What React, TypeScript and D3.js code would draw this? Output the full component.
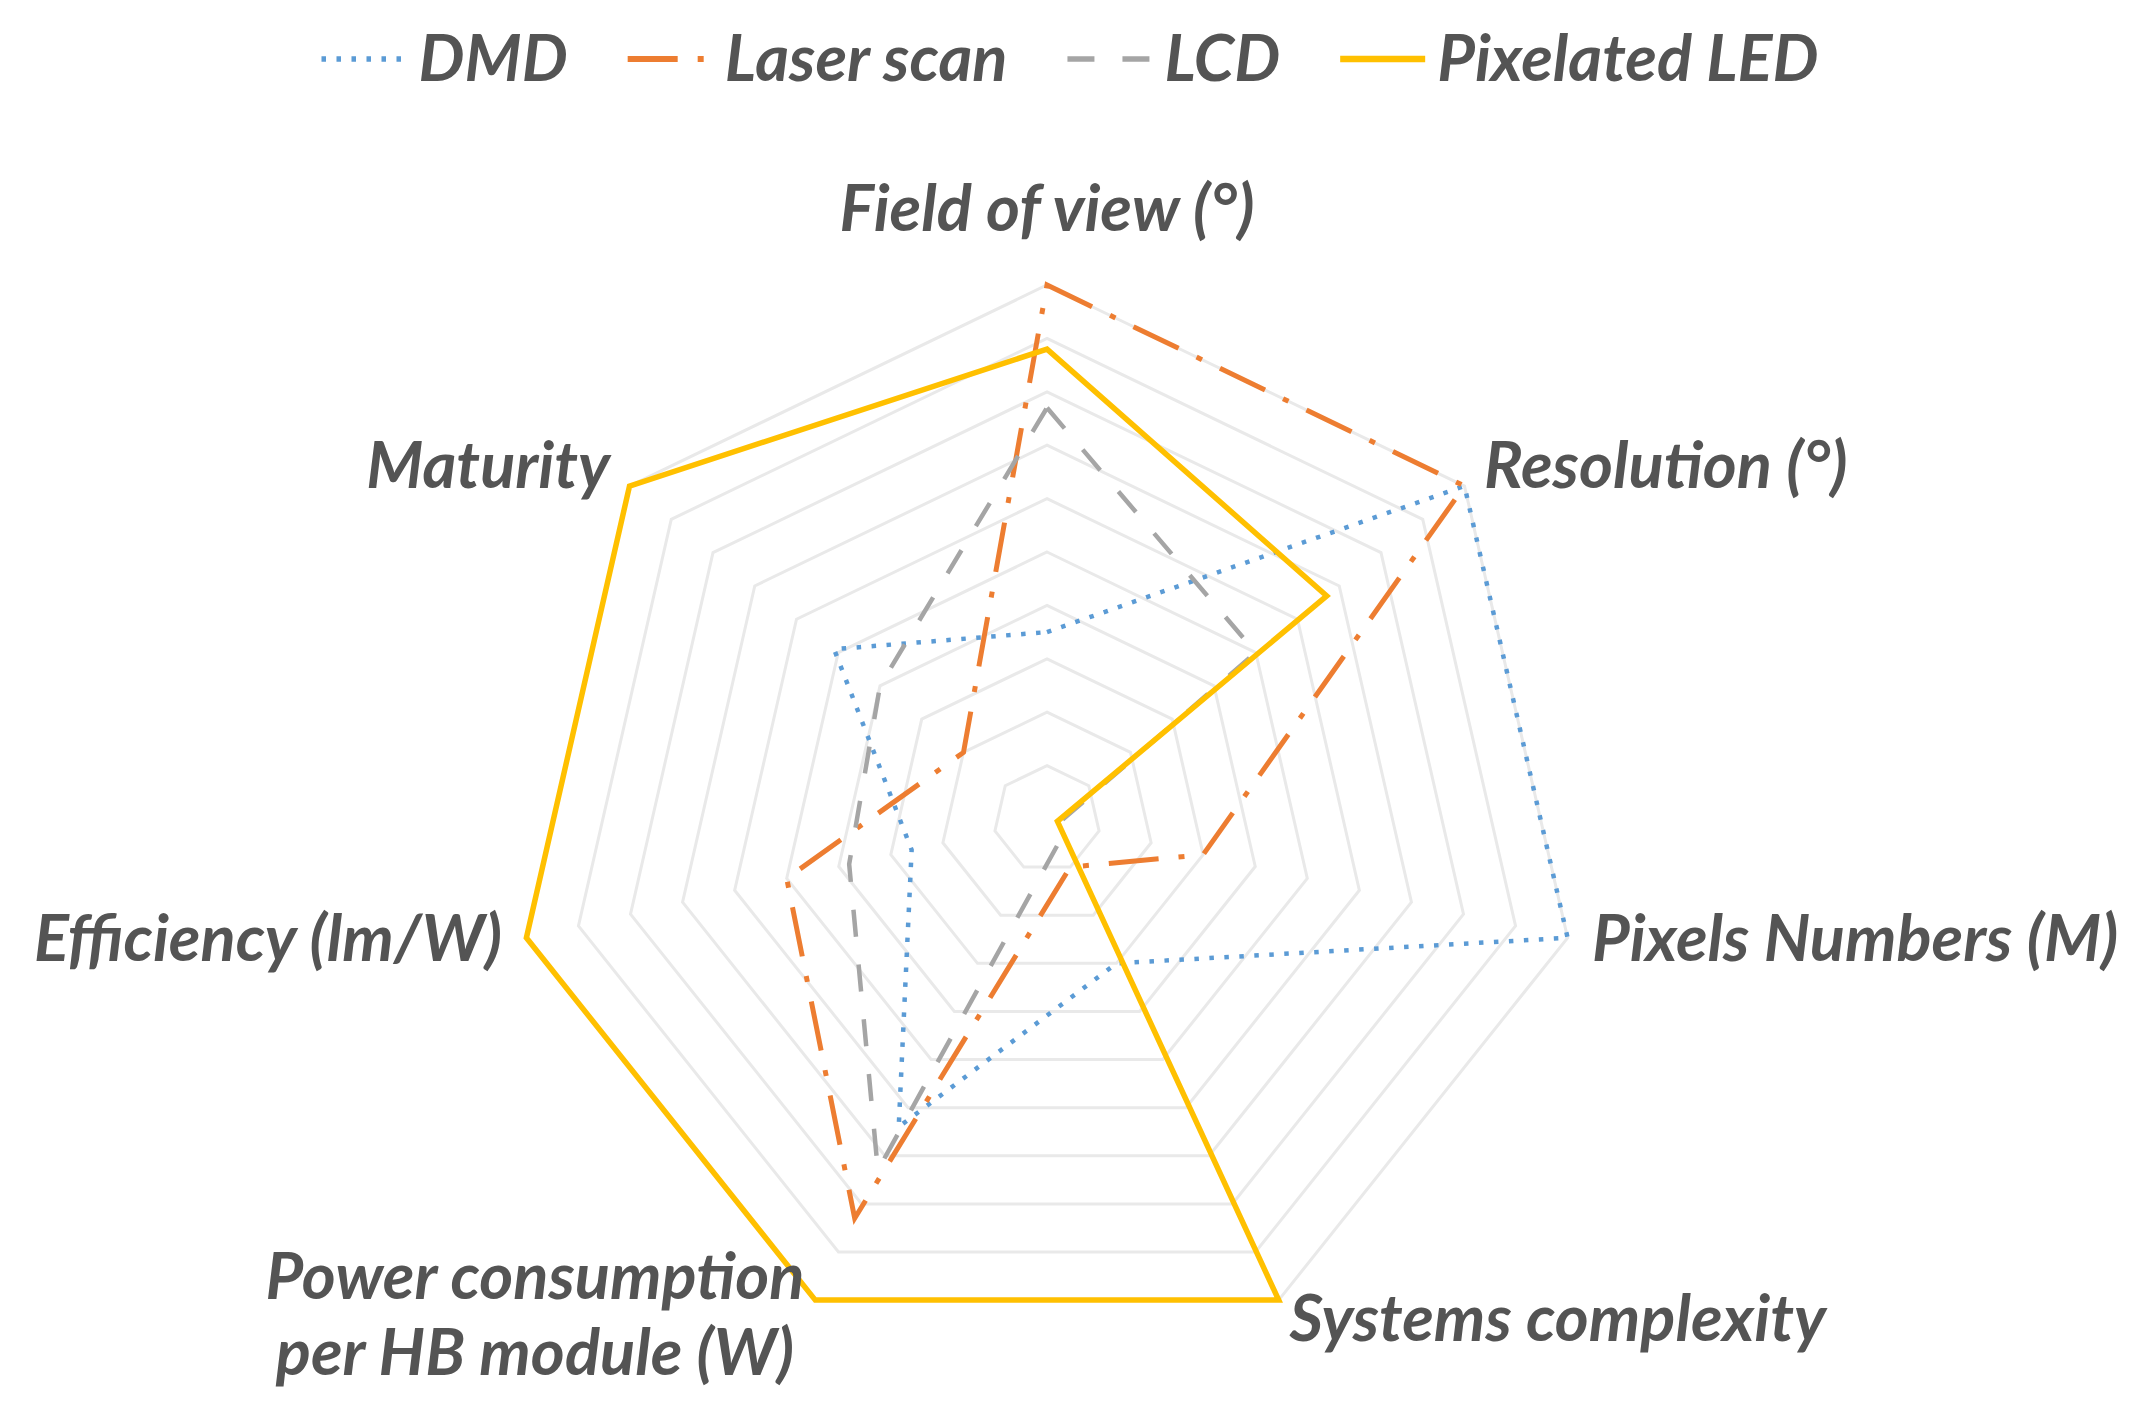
import React, { useEffect, useRef } from "react";
import * as d3 from "d3";

// ---- Data ----
const axisLabels: string[][] = [
  ["Field of view (°)"],
  ["Resolution (°)"],
  ["Pixels Numbers (M)"],
  ["Systems complexity"],
  ["Power consumption", "per HB module (W)"],
  ["Efficiency (lm/W)"],
  ["Maturity"],
];
const seriesNames = ["DMD", "Laser scan", "LCD", "Pixelated LED"];
const dmdValues = [3.5, 10, 10, 3.0, 6.4, 2.6, 5.1];
const laserValues = [10, 10, 3.0, 1.0, 8.3, 5.0, 2.0];
const lcdValues = [7.7, 5.0, 0.25, 0.5, 7.3, 3.8, 4.0];
const ledValues = [8.8, 6.7, 0.2, 10, 10, 10, 10];
const gridLevels = [1, 2, 3, 4, 5, 6, 7, 8, 9, 10];
const valueMax = 10;

// ---- Layout / style ----
const W = 2154;
const H = 1416;
const CX = 1047;
const CY = 819;
const R = 534;
const FONT = "Lato, 'Open Sans', 'DejaVu Sans', sans-serif";
const FS = 65;
const TEXT_COLOR = "#545454";
const seriesStyles = [
  { color: "#5B9BD5", width: 4.5, dash: "4.5 10.5", cap: "butt" },
  { color: "#ED7D31", width: 5, dash: "50 20 6 20", cap: "butt" },
  { color: "#A5A5A5", width: 4.5, dash: "27 28", cap: "butt" },
  { color: "#FFC000", width: 5.5, dash: "none", cap: "butt" },
];

export default function App() {
  const ref = useRef<SVGSVGElement | null>(null);

  useEffect(() => {
    const svg = d3.select(ref.current as SVGSVGElement);
    svg.selectAll("*").remove();
    const n = axisLabels.length;
    const angle = (i: number) => (i * 2 * Math.PI) / n;
    const r = d3.scaleLinear().domain([0, valueMax]).range([0, R]);

    const g = svg.append("g").attr("transform", `translate(${CX},${CY})`);

    const radial = d3
      .lineRadial<number>()
      .angle((_, i) => angle(i))
      .radius((d) => r(d))
      .curve(d3.curveLinearClosed);

    // grid heptagons
    g.append("g")
      .selectAll("path")
      .data(gridLevels)
      .join("path")
      .attr("d", (l) => radial(d3.range(n).map(() => l)) as string)
      .attr("fill", "none")
      .attr("stroke", "#e9e9e9")
      .attr("stroke-width", 3);

    // series
    const allSeries = [dmdValues, laserValues, lcdValues, ledValues];
    allSeries.forEach((vals, si) => {
      const st = seriesStyles[si];
      g.append("path")
        .attr("d", radial(vals) as string)
        .attr("fill", "none")
        .attr("stroke", st.color)
        .attr("stroke-width", st.width)
        .attr("stroke-dasharray", st.dash)
        .attr("stroke-linecap", st.cap)
        .attr("stroke-linejoin", "miter");
    });

    // axis labels
    const lh = 76;
    axisLabels.forEach((lines, i) => {
      const a = angle(i);
      const dx = Math.sin(a);
      const dy = -Math.cos(a);
      const rr = R + 25;
      const x = dx * rr;
      const y = dy * rr;
      const anchor = Math.abs(dx) < 0.1 ? "middle" : dx > 0 ? "start" : "end";
      const t = g
        .append("text")
        .attr("font-family", FONT)
        .attr("font-size", FS)
        .attr("font-style", "italic")
        .attr("font-weight", 700)
        .attr("fill", TEXT_COLOR)
        .attr("text-anchor", "middle");
      let firstBase: number;
      if (dy < -0.95) firstBase = y - 29;
      else firstBase = y + 18 - ((lines.length - 1) * lh) / 2 - 4 * (lines.length - 1);
      lines.forEach((ln, k) => {
        t.append("tspan").attr("x", 0).attr("y", firstBase + k * lh).text(ln);
      });
      let wmax = 0;
      t.selectAll<SVGTSpanElement, unknown>("tspan").each(function () {
        wmax = Math.max(wmax, this.getComputedTextLength());
      });
      const bx = anchor === "middle" ? x : anchor === "start" ? x + wmax / 2 : x - wmax / 2;
      t.selectAll("tspan").attr("x", bx);
    });

    // legend
    const legendY = 59;
    const sampleLen = 85;
    const sampleGap = 12;
    const itemGap = 60;
    const leg = svg.append("g");
    let cursor = 0;
    seriesNames.forEach((name, si) => {
      const st = seriesStyles[si];
      const item = leg.append("g").attr("transform", `translate(${cursor},0)`);
      item
        .append("line")
        .attr("x1", 0)
        .attr("x2", sampleLen)
        .attr("y1", legendY)
        .attr("y2", legendY)
        .attr("stroke", st.color)
        .attr("stroke-width", st.width + 1)
        .attr("stroke-dasharray", st.dash);
      const tx = item
        .append("text")
        .attr("x", sampleLen + sampleGap)
        .attr("y", legendY + 22)
        .attr("font-family", FONT)
        .attr("font-size", FS)
        .attr("font-style", "italic")
        .attr("font-weight", 700)
        .attr("fill", TEXT_COLOR)
        .text(name);
      const tw = (tx.node() as SVGTextElement).getComputedTextLength();
      cursor += sampleLen + sampleGap + tw + itemGap;
    });
    const total = cursor - itemGap;
    leg.attr("transform", `translate(${1070 - total / 2},0)`);
  }, []);

  return (
    <svg
      ref={ref}
      width={W}
      height={H}
      style={{ position: "fixed", left: 0, top: 0, background: "#ffffff" }}
    />
  );
}
